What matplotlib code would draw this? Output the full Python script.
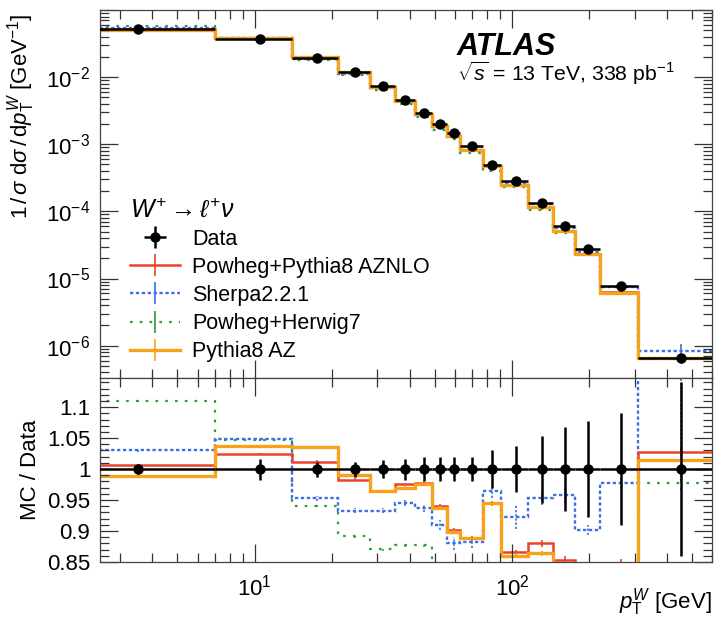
import numpy as np
import matplotlib
matplotlib.use("Agg")
import matplotlib.pyplot as plt
from matplotlib.ticker import LogLocator, FixedLocator, MultipleLocator, NullFormatter, FuncFormatter
from matplotlib.lines import Line2D

plt.rcParams['font.family'] = ['Liberation Sans', 'DejaVu Sans']
plt.rcParams['mathtext.fontset'] = 'custom'
plt.rcParams['mathtext.rm'] = 'Liberation Sans'
plt.rcParams['mathtext.it'] = 'Liberation Sans:italic'
plt.rcParams['mathtext.bf'] = 'Liberation Sans:bold'

# pT(W) bin edges [GeV]
edges = np.array([0, 7, 14, 21, 28, 35, 42, 49, 56, 63, 77, 91, 116, 145, 176, 220, 310, 600])

# normalised data 1/sigma dsigma/dpT [1/GeV]
data = np.array([0.0518, 0.0371, 0.0194, 0.0121, 0.0075, 0.00459, 0.00291, 0.00199, 0.00147,
                 0.000927, 0.000495, 0.000286, 0.000133, 5.98e-5, 2.79e-5, 7.66e-6, 6.45e-7])
data_rel_err = np.array([0.008, 0.017, 0.012, 0.012, 0.015, 0.017, 0.019, 0.020, 0.020,
                         0.020, 0.030, 0.037, 0.054, 0.068, 0.077, 0.090, 0.140])

# MC / Data ratios
ratio_aznlo = np.array([1.006, 1.0245, 1.012, 0.983, 0.965, 0.976, 0.978, 0.941, 0.901,
                        0.888, 0.945, 0.866, 0.880, 0.853, 0.830, 0.835, 1.028])
ratio_sherpa = np.array([1.030, 1.048, 0.953, 0.933, 0.933, 0.945, 0.937, 0.910, 0.880,
                         0.882, 0.964, 0.923, 0.953, 0.958, 0.901, 0.978, 1.280])
ratio_herwig = np.array([1.110, 1.047, 0.941, 0.892, 0.871, 0.878, 0.878, 0.820, 0.810,
                         0.800, 0.800, 0.800, 0.800, 0.800, 0.800, 0.800, 0.977])
ratio_az = np.array([0.989, 1.037, 1.035, 0.991, 0.964, 0.970, 0.976, 0.937, 0.898,
                     0.888, 0.945, 0.860, 0.864, 0.845, 0.820, 0.800, 1.015])

# MC stat. uncertainties (relative)
err_aznlo = np.array([0.001, 0.001, 0.002, 0.002, 0.002, 0.002, 0.003, 0.003, 0.004,
                      0.004, 0.004, 0.004, 0.005, 0.006, 0.006, 0.020, 0.010])
err_sherpa = np.array([0.002, 0.003, 0.004, 0.004, 0.004, 0.005, 0.006, 0.008, 0.010,
                       0.010, 0.011, 0.019, 0.011, 0.012, 0.008, 0.010, 0.300])
err_herwig = np.array([0.002, 0.002, 0.002, 0.003, 0.003, 0.003, 0.004, 0.004, 0.005,
                       0.005, 0.005, 0.006, 0.006, 0.008, 0.008, 0.010, 0.010])
err_az = np.array([0.001, 0.001, 0.002, 0.002, 0.002, 0.002, 0.003, 0.003, 0.003,
                   0.003, 0.004, 0.004, 0.004, 0.005, 0.005, 0.006, 0.008])

centers = 0.5 * (edges[1:] + edges[:-1])
halfw = 0.5 * (edges[1:] - edges[:-1])

c_red = '#e8432c'
c_blue = '#3b6fe2'
c_green = '#2e9c3a'
c_orange = '#f7a21b'

models = [
    ('Powheg+Herwig7', ratio_herwig, err_herwig, c_green, (0, (1.2, 3.2)), 1.6),
    ('Sherpa2.2.1', ratio_sherpa, err_sherpa, c_blue, (0, (1.4, 1.1)), 1.7),
    ('Powheg+Pythia8 AZNLO', ratio_aznlo, err_aznlo, c_red, '-', 1.8),
    ('Pythia8 AZ', ratio_az, err_az, c_orange, '-', 2.4),
]

fig = plt.figure(figsize=(7.15, 6.17), dpi=100)
L, R = 100 / 715, 712 / 715
ax = fig.add_axes([L, 1 - 378 / 617, R - L, (378 - 10) / 617])
ax2 = fig.add_axes([L, 1 - 562 / 617, R - L, (562 - 378) / 617], sharex=ax)

for name, r, e, col, ls, lw in models:
    ax.stairs(data * r, edges, baseline=None, color=col, ls=ls, lw=lw)
    ax.errorbar(centers, data * r, yerr=data * r * e, fmt='none', ecolor=col, elinewidth=1.2)
    ax2.stairs(r, edges, baseline=None, color=col, ls=ls, lw=lw)
    eb = ax2.errorbar(centers, r, yerr=e, fmt='none', ecolor=col, elinewidth=1.2)
    eb[2][0].set_linestyle(ls)

ax.errorbar(centers, data, xerr=halfw, yerr=data * data_rel_err, fmt='o', color='k',
            ms=6.5, lw=1.8, capsize=0, zorder=5)
ax2.errorbar(centers, np.ones_like(centers), xerr=halfw, yerr=data_rel_err, fmt='o', color='k',
             ms=6.5, lw=1.8, capsize=0, zorder=5)

ax.set_xscale('log')
ax.set_yscale('log')
ax.set_xlim(2.5, 600)
ax.set_ylim(3.3e-7, 0.1)
ax2.set_ylim(0.85, 1.147)

ax.yaxis.set_major_locator(FixedLocator([1e-6, 1e-5, 1e-4, 1e-3, 1e-2, 1e-1]))
ax.yaxis.set_minor_locator(LogLocator(base=10, subs=np.arange(2, 10), numticks=20))
ax.yaxis.set_minor_formatter(NullFormatter())

def loglab(v, pos):
    if v > 0.05:
        return ''
    return r'$10^{%d}$' % int(round(np.log10(v)))
ax.yaxis.set_major_formatter(FuncFormatter(loglab))

ax2.yaxis.set_major_locator(FixedLocator([0.85, 0.9, 0.95, 1.0, 1.05, 1.1]))
ax2.yaxis.set_minor_locator(MultipleLocator(0.01))
ax2.yaxis.set_major_formatter(FuncFormatter(lambda v, p: ('%g' % v)))

ax2.xaxis.set_major_locator(FixedLocator([10, 100]))
ax2.xaxis.set_minor_locator(LogLocator(base=10, subs=np.arange(2, 10), numticks=20))
ax2.xaxis.set_minor_formatter(NullFormatter())
ax2.xaxis.set_major_formatter(FuncFormatter(lambda v, p: r'$10^{%d}$' % int(round(np.log10(v)))))
plt.setp(ax.get_xticklabels(), visible=False)

for a in (ax, ax2):
    a.tick_params(which='both', direction='in', top=True, right=True, colors='#333333', labelcolor='k',
                  labelsize=16, pad=7)
    a.tick_params(which='major', length=13, width=0.9)
    a.tick_params(which='minor', length=6.5, width=0.9)
    for s in a.spines.values():
        s.set_color('#444444')
        s.set_linewidth(0.9)
ax2.tick_params(axis='x', which='major', pad=9)

ax.set_ylabel(r'$1\,/\,\sigma\ \mathrm{d}\sigma\,/\,\mathrm{d}p_{\mathrm{T}}^{W}$ [GeV$^{-1}$]', fontsize=16,
              loc='top')
ax.yaxis.set_label_coords(-0.103, 0.99)
ax2.set_ylabel('MC / Data', fontsize=16)
ax2.yaxis.set_label_coords(-0.097, 0.5)
ax2.text(1.0, -0.255, r'$p_{\mathrm{T}}^{W}$ [GeV]', transform=ax2.transAxes, fontsize=16,
         ha='right', va='baseline')

ax.text(0.583, 0.878, 'ATLAS', transform=ax.transAxes, fontsize=22, fontweight='bold',
        fontstyle='italic', va='baseline')
ax.text(0.583, 0.806, r'$\sqrt{s}$ = 13 TeV, 338 pb$^{-1}$', transform=ax.transAxes, fontsize=15.3,
        va='baseline')

handles = [
    ax.errorbar([], [], xerr=[], yerr=[], fmt='o', color='k', ms=6.5, lw=1.8),
]
labels = ['Data']
for name in ['Powheg+Pythia8 AZNLO', 'Sherpa2.2.1', 'Powheg+Herwig7', 'Pythia8 AZ']:
    for m in models:
        if m[0] == name:
            h = Line2D([0, 1], [0, 0], color=m[3], ls=m[4], lw=m[5], marker='|', ms=16,
                       markeredgewidth=1.2)
            handles.append(h)
            labels.append(name)

leg = ax.legend(handles, labels, loc='upper left', bbox_to_anchor=(0.049, 0.49), frameon=False,
                fontsize=15.5, handlelength=2.33, handletextpad=0.56, labelspacing=0.33,
                title=r'$W^{+}\rightarrow\ell^{+}\nu$', title_fontsize=18, borderaxespad=0, borderpad=0)
leg._legend_box.align = 'left'

fig.savefig('out.png', dpi=100)
